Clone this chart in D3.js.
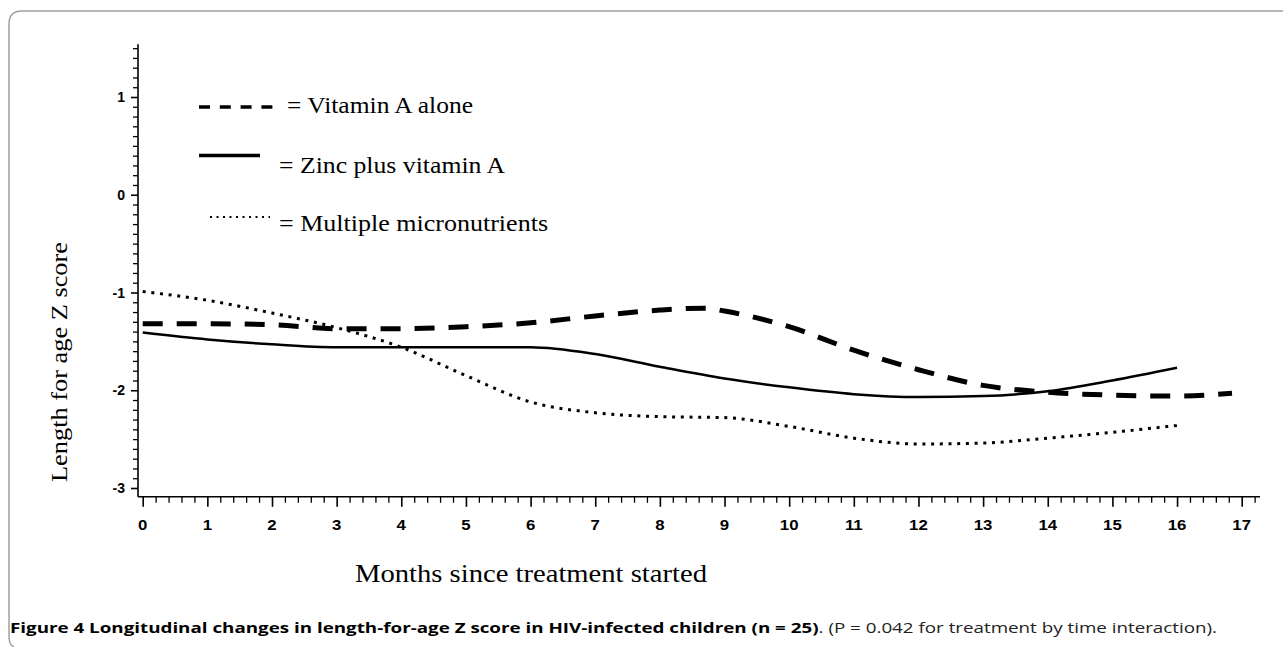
<!DOCTYPE html>
<html>
<head>
<meta charset="utf-8">
<script src="https://cdn.jsdelivr.net/npm/d3@7"></script>
<style>
  html, body { margin: 0; padding: 0; background: #fff; }
  svg { display: block; }
</style>
</head>
<body>
<div id="chart"></div>
<script>
// ---------------- data ----------------
const monthsVitA = [0, 1, 2, 3, 4, 5, 6, 7, 8, 8.7, 9, 10, 11, 12, 13, 14, 15, 16, 16.85];
const vitaminAalone = [-1.32, -1.32, -1.33, -1.37, -1.37, -1.35, -1.31, -1.24, -1.18, -1.16, -1.19, -1.35, -1.59, -1.79, -1.95, -2.02, -2.05, -2.06, -2.03];

const monthsOther = [0, 1, 2, 3, 4, 5, 6, 7, 8, 9, 10, 11, 12, 13, 14, 15, 16];
const zincPlusVitA = [-1.41, -1.48, -1.53, -1.56, -1.56, -1.56, -1.56, -1.63, -1.76, -1.88, -1.97, -2.04, -2.07, -2.06, -2.01, -1.90, -1.77];
const multipleMicro = [-0.99, -1.08, -1.21, -1.36, -1.56, -1.85, -2.12, -2.23, -2.27, -2.28, -2.37, -2.49, -2.55, -2.54, -2.49, -2.43, -2.36];

const xTickValues = [0, 1, 2, 3, 4, 5, 6, 7, 8, 9, 10, 11, 12, 13, 14, 15, 16, 17];
const yTickValues = [-3, -2, -1, 0, 1];
const yTickLabels = ["-3", "-2", "-1", "0", "1"];

const legendLabels = ["= Vitamin A alone", "= Zinc plus vitamin A", "= Multiple micronutrients"];
const xTitle = "Months since treatment started";
const yTitle = "Length for age Z score";
const captionBold = "Figure 4 Longitudinal changes in length-for-age Z score in HIV-infected children (n = 25)";
const captionRest = ". (P = 0.042 for treatment by time interaction).";

// ---------------- layout ----------------
const W = 1283, H = 647;
const svg = d3.select("#chart").append("svg").attr("width", W).attr("height", H);

// frame
svg.append("path")
  .attr("d", "M1283,11 H22 Q9,11 9,24 V636 Q9,645 14,647")
  .attr("fill", "none").attr("stroke", "#a0a0a0").attr("stroke-width", 1.5);

const x = d3.scaleLinear().domain([0, 17]).range([142.7, 1241.7]);
const y = d3.scaleLinear().domain([-3, 1]).range([488, 97]);

const axisX0 = x.invert(138), axisX1 = x.invert(1260);
const axisYBottom = -3.09, axisYTop = 1.54;

const g = svg.append("g");

// y axis
const yAxis = d3.axisLeft(y)
  .tickValues(d3.range(-30, 16).map(d => d / 10))
  .tickSize(5)
  .tickFormat("");
const yG = g.append("g").attr("transform", `translate(${x(axisX0)},0)`).call(yAxis);
yG.select(".domain").remove();
yG.selectAll("line").attr("stroke", "#000").attr("stroke-width", 1.3);
yG.selectAll(".tick").filter(d => Math.abs(d - Math.round(d)) < 1e-6)
  .select("line").attr("x2", -7).attr("stroke-width", 1.6);

g.append("line")
  .attr("x1", x(axisX0)).attr("x2", x(axisX0))
  .attr("y1", y(axisYTop)).attr("y2", y(axisYBottom))
  .attr("stroke", "#000").attr("stroke-width", 1.6);

// y tick labels
g.selectAll("text.ylab").data(yTickValues).enter().append("text")
  .attr("class", "ylab")
  .attr("x", 125)
  .attr("y", d => y(d))
  .attr("dy", "0.36em")
  .attr("text-anchor", "end")
  .attr("font-family", "Liberation Sans, Arial, sans-serif")
  .attr("font-weight", "bold")
  .attr("font-size", 14)
  .text((d, i) => yTickLabels[i]);

// x axis
const xAxis = d3.axisBottom(x)
  .tickValues(d3.range(0, 87).map(d => d / 5))
  .tickSize(6)
  .tickFormat("");
const xG = g.append("g").attr("transform", `translate(0,${y(axisYBottom)})`).call(xAxis);
xG.select(".domain").remove();
xG.selectAll("line").attr("stroke", "#000").attr("stroke-width", 1.3);
xG.selectAll(".tick").filter(d => Math.abs(d - Math.round(d)) < 1e-6)
  .select("line").attr("y2", 10).attr("stroke-width", 1.6);

g.append("line")
  .attr("x1", x(axisX0)).attr("x2", x(axisX1))
  .attr("y1", y(axisYBottom)).attr("y2", y(axisYBottom))
  .attr("stroke", "#000").attr("stroke-width", 1.6);

g.selectAll("text.xlab").data(xTickValues).enter().append("text")
  .attr("class", "xlab")
  .attr("x", d => x(d))
  .attr("y", 530)
  .attr("text-anchor", "middle")
  .attr("font-family", "Liberation Sans, Arial, sans-serif")
  .attr("font-weight", "bold")
  .attr("font-size", 14)
  .attr("transform", d => `translate(${x(d)},0) scale(1.2,1) translate(${-x(d)},0)`)
  .text(d => d);

// lines
const line = d3.line().x(d => x(d[0])).y(d => y(d[1])).curve(d3.curveMonotoneX);

g.append("path")
  .datum(monthsVitA.map((m, i) => [m, vitaminAalone[i]]))
  .attr("d", line)
  .attr("fill", "none").attr("stroke", "#000")
  .attr("stroke-width", 5)
  .attr("stroke-dasharray", "20,14");

g.append("path")
  .datum(monthsOther.map((m, i) => [m, zincPlusVitA[i]]))
  .attr("d", line)
  .attr("fill", "none").attr("stroke", "#000")
  .attr("stroke-width", 2.5);

g.append("path")
  .datum(monthsOther.map((m, i) => [m, multipleMicro[i]]))
  .attr("d", line)
  .attr("fill", "none").attr("stroke", "#000")
  .attr("stroke-width", 3)
  .attr("stroke-dasharray", "3,5.7");

// legend
const serif = "Liberation Serif, Times New Roman, serif";
g.append("line").attr("x1", 199).attr("x2", 273).attr("y1", 107).attr("y2", 107)
  .attr("stroke", "#000").attr("stroke-width", 3.3).attr("stroke-dasharray", "11,9.8");
g.append("line").attr("x1", 199).attr("x2", 260).attr("y1", 155.5).attr("y2", 155.5)
  .attr("stroke", "#000").attr("stroke-width", 3.5);
g.append("line").attr("x1", 210).attr("x2", 270).attr("y1", 217).attr("y2", 217)
  .attr("stroke", "#000").attr("stroke-width", 2).attr("stroke-dasharray", "2,4.5");

const legendPos = [[287, 113, 186], [279, 173, 226], [279, 231, 269]];
legendLabels.forEach((t, i) => {
  g.append("text")
    .attr("x", legendPos[i][0]).attr("y", legendPos[i][1])
    .attr("font-family", serif).attr("font-size", 23)
    .attr("textLength", legendPos[i][2]).attr("lengthAdjust", "spacingAndGlyphs")
    .text(t);
});

// axis titles
g.append("text")
  .attr("x", 531).attr("y", 582)
  .attr("text-anchor", "middle")
  .attr("font-family", serif).attr("font-size", 25)
  .attr("textLength", 352).attr("lengthAdjust", "spacingAndGlyphs")
  .text(xTitle);

g.append("text")
  .attr("transform", "translate(67,362) rotate(-90)")
  .attr("text-anchor", "middle")
  .attr("font-family", serif).attr("font-size", 24)
  .attr("textLength", 240).attr("lengthAdjust", "spacingAndGlyphs")
  .text(yTitle);

// caption
const cap = svg.append("text")
  .attr("x", 10).attr("y", 633)
  .attr("font-family", "Open Sans, Noto Sans, sans-serif")
  .attr("font-size", 14.5)
  .attr("textLength", 1207).attr("lengthAdjust", "spacingAndGlyphs");
cap.append("tspan").attr("font-weight", "bold").text(captionBold);
cap.append("tspan").attr("fill", "#222").text(captionRest);
</script>
</body>
</html>
